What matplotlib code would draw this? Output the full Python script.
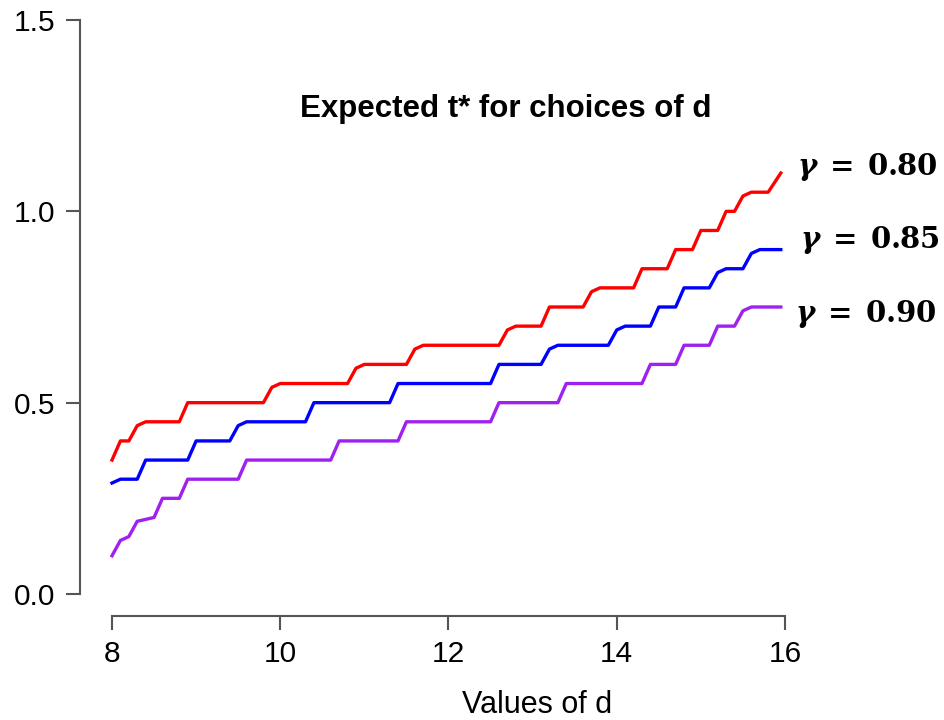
import numpy as np
import matplotlib
matplotlib.use('Agg')
import matplotlib.pyplot as plt

plt.rcParams['font.family'] = ['Liberation Sans', 'DejaVu Sans']
plt.rcParams['mathtext.fontset'] = 'dejavuserif'

# step curves (d, expected t*)
d_080 = [8.0, 8.1, 8.2, 8.3, 8.4, 8.8, 8.9, 9.8, 9.9, 10.0, 10.8, 10.9, 11.0, 11.5, 11.6, 11.7,
         12.6, 12.7, 12.8, 13.1, 13.2, 13.6, 13.7, 13.8, 14.2, 14.3, 14.6, 14.7, 14.9, 15.0,
         15.2, 15.3, 15.4, 15.5, 15.6, 15.8, 15.95]
t_080 = [0.35, 0.40, 0.40, 0.44, 0.45, 0.45, 0.50, 0.50, 0.54, 0.55, 0.55, 0.59, 0.60, 0.60, 0.64, 0.65,
         0.65, 0.69, 0.70, 0.70, 0.75, 0.75, 0.79, 0.80, 0.80, 0.85, 0.85, 0.90, 0.90, 0.95,
         0.95, 1.00, 1.00, 1.04, 1.05, 1.05, 1.10]

d_085 = [8.0, 8.1, 8.3, 8.4, 8.9, 9.0, 9.4, 9.5, 9.6, 10.3, 10.4, 11.3, 11.4, 12.5, 12.6, 13.1,
         13.2, 13.3, 13.9, 14.0, 14.1, 14.4, 14.5, 14.7, 14.8, 15.1, 15.2, 15.3, 15.5, 15.6,
         15.7, 15.95]
t_085 = [0.29, 0.30, 0.30, 0.35, 0.35, 0.40, 0.40, 0.44, 0.45, 0.45, 0.50, 0.50, 0.55, 0.55, 0.60, 0.60,
         0.64, 0.65, 0.65, 0.69, 0.70, 0.70, 0.75, 0.75, 0.80, 0.80, 0.84, 0.85, 0.85, 0.89,
         0.90, 0.90]

d_090 = [8.0, 8.1, 8.2, 8.3, 8.5, 8.6, 8.8, 8.9, 9.5, 9.6, 10.6, 10.7, 11.4, 11.5, 12.5, 12.6,
         13.3, 13.4, 14.3, 14.4, 14.7, 14.8, 15.1, 15.2, 15.4, 15.5, 15.6, 15.95]
t_090 = [0.10, 0.14, 0.15, 0.19, 0.20, 0.25, 0.25, 0.30, 0.30, 0.35, 0.35, 0.40, 0.40, 0.45, 0.45, 0.50,
         0.50, 0.55, 0.55, 0.60, 0.60, 0.65, 0.65, 0.70, 0.70, 0.74, 0.75, 0.75]

labels = [r'$\mathbfit{\gamma}\;\mathbf{=}\;\mathbf{0.80}$',
          r'$\mathbfit{\gamma}\;\mathbf{=}\;\mathbf{0.85}$',
          r'$\mathbfit{\gamma}\;\mathbf{=}\;\mathbf{0.90}$']
colors = ['#ff0000', '#0000ff', '#a020f0']

W, H = 945, 720
fig = plt.figure(figsize=(W / 100, H / 100), dpi=100)

# axes placed so that d=8 -> px 112, d=16 -> px 785, t=0 -> px 594, t=1.5 -> px 20
px_x = (785 - 112) / 8
px_y = (594 - 20) / 1.5
left, bottom_px = 80, 616
ax = fig.add_axes([left / W, (H - bottom_px) / H, 1 - left / W, bottom_px / H])
ax.set_xlim(8 - (112 - left) / px_x, 8 + (W - 112) / px_x)
ax.set_ylim(-(bottom_px - 594) / px_y, 594 / px_y)

for d, t, c in zip([d_080, d_085, d_090], [t_080, t_085, t_090], colors):
    ax.plot(d, t, color=c, lw=2.4, solid_joinstyle='round')

for s in ['top', 'right']:
    ax.spines[s].set_visible(False)
for s in ['left', 'bottom']:
    ax.spines[s].set_color('#555555')
    ax.spines[s].set_linewidth(1.5)
ax.spines['left'].set_bounds(0, 1.5)
ax.spines['bottom'].set_bounds(8, 16)

ax.set_xticks([8, 10, 12, 14, 16])
ax.set_yticks([0.0, 0.5, 1.0, 1.5])
ax.set_yticklabels(['0.0', '0.5', '1.0', '1.5'])
ax.tick_params(axis='both', colors='#555555', labelcolor='black', labelsize=21.5,
               length=10, width=1.5)
ax.tick_params(axis='y', pad=8)
ax.tick_params(axis='x', pad=7)

fig.text(506 / W, (H - 117) / H, 'Expected t* for choices of d', ha='center', va='baseline',
         fontsize=22.5, fontweight='bold')
fig.text(537 / W, 7 / H, 'Values of d', ha='center', va='baseline', fontsize=22)

for lab, yb, xl in zip(labels, [175, 248, 322], [797, 800, 795]):
    fig.text(xl / W, (H - yb) / H, lab, ha='left', va='baseline', fontsize=21)

fig.savefig('out.png', dpi=100)
